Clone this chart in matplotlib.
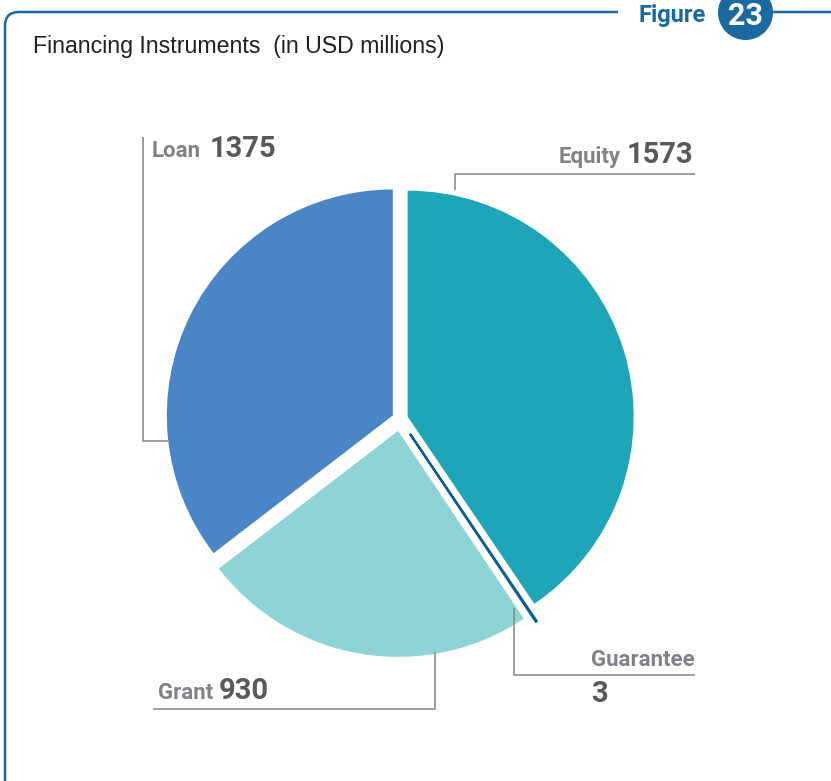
import matplotlib
matplotlib.use("Agg")
from matplotlib import pyplot as plt
from matplotlib.patches import FancyBboxPatch, Circle, Rectangle

# financing instruments, USD millions (clockwise from 12 o'clock)
instruments = ['Equity', 'Guarantee', 'Grant', 'Loan']
amounts = [1573, 3, 930, 1375]
colors = ['#1ea5b8', '#0b5e95', '#8ed4d6', '#4a86c5']
explode = [8, 18, 12, 8]  # in pixels

W, H = 831, 781
blue = '#1a6aa0'
gray_line = '#8c8c8c'
name_col = '#808285'
num_col = '#58595b'
lbl_font = 'Roboto'


def Y(y):
    # image pixel row -> axes coordinate
    return H - y


fig = plt.figure(figsize=(W / 100, H / 100), dpi=100)
ax = fig.add_axes([0, 0, 1, 1])

wedges, _ = ax.pie(amounts, colors=colors, startangle=90, counterclock=False,
                   explode=explode, center=(400, Y(419)), radius=226,
                   wedgeprops=dict(linewidth=0))
# the tiny guarantee slice shows as a thin line
wedges[1].set_edgecolor(colors[1])
wedges[1].set_linewidth(1.6)

ax.set_xlim(0, W)
ax.set_ylim(0, H)
ax.set_axis_off()

# frame
frame = FancyBboxPatch((5, -60), 900, Y(12) + 60, boxstyle='round,pad=0,rounding_size=14',
                       fill=False, edgecolor=blue, linewidth=1.8, zorder=1)
ax.add_patch(frame)
ax.add_patch(Rectangle((618, Y(20)), 100, 16, facecolor='white', edgecolor='none', zorder=2))
ax.add_patch(Circle((745.5, Y(12.5)), 27.5, facecolor=blue, edgecolor='none', zorder=3))
ax.text(706, Y(22), 'Figure', color=blue, fontsize=17, fontweight='bold',
        family=lbl_font, ha='right', va='baseline', zorder=4)
ax.text(745.5, Y(25), '23', color='white', fontsize=22, fontweight='bold',
        family=lbl_font, ha='center', va='baseline', zorder=4)

ax.text(33, Y(53), 'Financing Instruments  (in USD millions)', color='#231f20',
        fontsize=16.7, family='Liberation Sans', ha='left', va='baseline')

# leader lines
lk = dict(color=gray_line, linewidth=1.2, solid_capstyle='butt', zorder=1)
ax.plot([143, 143, 170], [Y(137), Y(441), Y(441)], **lk)
ax.plot([455, 455, 695], [Y(190), Y(174), Y(174)], **lk)
ax.plot([514, 514, 695], [Y(608), Y(675), Y(675)], **lk)
ax.plot([153, 435, 435], [Y(709), Y(709), Y(652)], **lk)

nk = dict(color=name_col, fontsize=16, fontweight='bold', family=lbl_font, va='baseline')
vk = dict(color=num_col, fontsize=21, fontweight='bold', family=lbl_font, va='baseline')

ax.text(152, Y(157), instruments[3], ha='left', **nk)
ax.text(210, Y(157), str(amounts[3]), ha='left', **vk)

ax.text(621, Y(163), instruments[0], ha='right', **nk)
ax.text(693, Y(163), str(amounts[0]), ha='right', **vk)

ax.text(695, Y(666), instruments[1], ha='right', **nk)
ax.text(591, Y(702), str(amounts[1]), ha='left', **vk)

ax.text(158, Y(699), instruments[2], ha='left', **nk)
ax.text(219, Y(699), str(amounts[2]), ha='left', **vk)

fig.savefig('out.png', dpi=100)
